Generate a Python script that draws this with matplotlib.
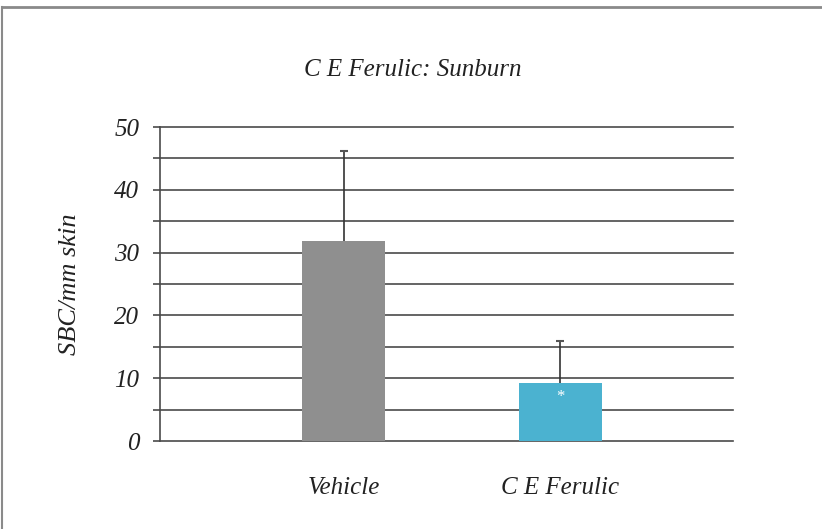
import numpy as np
import matplotlib
matplotlib.use("Agg")
import matplotlib.pyplot as plt
from matplotlib.lines import Line2D

categories = ["Vehicle", "C E Ferulic"]
values = [31.8, 9.2]
errors = [14.4, 6.7]
colors = ["#8f8f8f", "#4bb2d0"]
yticks = [0, 10, 20, 30, 40, 50]

plt.rcParams['font.family'] = ['Liberation Serif', 'DejaVu Serif']

fig = plt.figure(figsize=(8.22, 5.29), dpi=100)
ax = fig.add_axes([160/822, 88/529, 573/822, 314/529])

x = np.arange(len(categories))
tops = np.array(values) + np.array(errors)
ax.bar(x, values, width=0.384, color=colors, zorder=3)
# upper error bars only
ax.vlines(x, values, tops, color="#333333", linewidth=1.2, zorder=4)
ax.plot(x, tops, linestyle="none", marker="_", markersize=6,
        markeredgewidth=1.5, color="#555555", zorder=4)

# significance marker
ax.text(x[1], 7.0, "*", color="white", ha="center", va="center",
        fontsize=12, zorder=5)

ax.set_xlim(-0.85, 1.80)
ax.set_ylim(0, 50)
ax.set_yticks(np.arange(0, 51, 5))
ax.set_yticklabels([str(v) if v in yticks else "" for v in range(0, 51, 5)])
ax.yaxis.grid(True, color="#4a4a4a", linewidth=1.2, zorder=0)
for gl in ax.get_ygridlines():
    gl.set_clip_on(False)
ax.set_axisbelow(True)

for s in ["top", "right", "bottom"]:
    ax.spines[s].set_visible(False)
ax.spines["left"].set_color("#4a4a4a")
ax.spines["left"].set_linewidth(1.2)

ax.tick_params(axis="y", length=5, width=1.2, color="#4a4a4a", pad=10,
               labelsize=18, labelcolor="#222222")
ax.tick_params(axis="x", length=0, pad=26, labelsize=18, labelcolor="#222222")
for lab in ax.get_yticklabels() + ax.get_xticklabels():
    lab.set_style("italic")
ax.set_xticks(x)
ax.set_xticklabels(categories)

ax.set_ylabel("SBC/mm skin", fontsize=19, style="italic", color="#222222", labelpad=24)
fig.text(413/822, 1 - 70/529, "C E Ferulic: Sunburn", ha="center", va="center",
         fontsize=18, style="italic", color="#222222")

# outer frame (top and left only)
fig.add_artist(Line2D([2/822, 1], [1 - 7/529, 1 - 7/529], color="#8a8a8a", linewidth=2))
fig.add_artist(Line2D([2/822, 2/822], [0, 1 - 7/529], color="#8a8a8a", linewidth=1.5))

fig.savefig("out.png", dpi=100)
